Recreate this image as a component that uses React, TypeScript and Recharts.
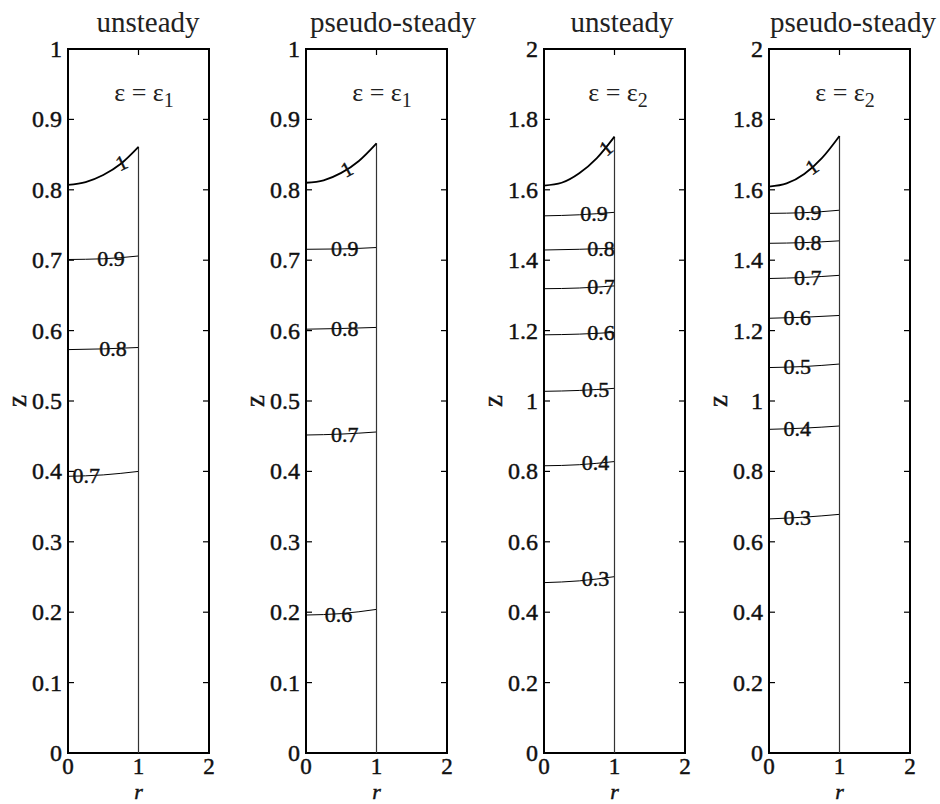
import { ComposedChart, Label, Line, ReferenceArea, ReferenceLine, Scatter, XAxis, YAxis } from "recharts";

// axes
const rTicks = [0, 1, 2];
const zTicksLow = [0, 0.1, 0.2, 0.3, 0.4, 0.5, 0.6, 0.7, 0.8, 0.9, 1];
const zTicksHigh = [0, 0.2, 0.4, 0.6, 0.8, 1, 1.2, 1.4, 1.6, 1.8, 2];

// free surface, sampled at surfaceR
const surfaceR = [0, 0.25, 0.5, 0.75, 1];
const surfUnsteady1 = [0.807, 0.811, 0.821, 0.837, 0.861];
const surfPseudo1 = [0.81, 0.8135, 0.824, 0.841, 0.866];
const surfUnsteady2 = [1.612, 1.62, 1.647, 1.69, 1.751];
const surfPseudo2 = [1.609, 1.618, 1.645, 1.69, 1.753];

// contour lines, sampled at contourR (left, middle, right)
const contourR = [0, 0.5, 1];

const levels1 = ["0.9", "0.8", "0.7"];
const unsteady1Left = [0.701, 0.573, 0.393];
const unsteady1Mid = [0.702, 0.574, 0.395];
const unsteady1Right = [0.706, 0.576, 0.4];
const unsteady1LabelR = [0.61, 0.64, 0.26];
const unsteady1LabelZ = [0.703, 0.575, 0.394];

const levels2 = ["0.9", "0.8", "0.7", "0.6"];
const pseudo1Left = [0.7155, 0.602, 0.4517, 0.196];
const pseudo1Mid = [0.716, 0.603, 0.453, 0.198];
const pseudo1Right = [0.718, 0.6045, 0.456, 0.204];
const pseudo1LabelR = [0.55, 0.55, 0.55, 0.46];
const pseudo1LabelZ = [0.716, 0.603, 0.453, 0.197];

const levels3 = ["0.9", "0.8", "0.7", "0.6", "0.5", "0.4", "0.3"];
const unsteady2Left = [1.526, 1.429, 1.319, 1.188, 1.0275, 0.816, 0.484];
const unsteady2Mid = [1.529, 1.431, 1.321, 1.19, 1.03, 0.819, 0.489];
const unsteady2Right = [1.536, 1.434, 1.327, 1.195, 1.036, 0.828, 0.501];
const unsteady2LabelR = [0.71, 0.81, 0.81, 0.81, 0.73, 0.73, 0.73];
const unsteady2LabelZ = [1.533, 1.433, 1.325, 1.194, 1.034, 0.825, 0.497];

const pseudo2Left = [1.533, 1.448, 1.348, 1.235, 1.095, 0.9195, 0.665];
const pseudo2Mid = [1.535, 1.45, 1.351, 1.238, 1.098, 0.923, 0.67];
const pseudo2Right = [1.542, 1.455, 1.357, 1.243, 1.105, 0.929, 0.678];
const pseudo2LabelR = [0.55, 0.55, 0.55, 0.4, 0.4, 0.4, 0.4];
const pseudo2LabelZ = [1.536, 1.451, 1.352, 1.238, 1.098, 0.923, 0.669];

// "1" label on the free surface: [r, z]
const surfLabels = [
  [0.76, 0.838],
  [0.58, 0.829],
  [0.88, 1.718],
  [0.61, 1.665],
];

const titles = ["unsteady", "pseudo-steady", "unsteady", "pseudo-steady"];
const epsIndex = ["1", "1", "2", "2"];

const PLOT_TOP = 49;
const PLOT_H = 704;
const PLOT_W = 141;
const Y_AXIS_W = 68;
const TICK = 6;
const serif = "Liberation Serif";

type PanelDef = {
  left: number;
  zMax: number;
  zTicks: number[];
  surface: number[];
  levels: string[];
  lo: number[];
  mid: number[];
  hi: number[];
  labelR: number[];
  labelZ: number[];
  surfLabel: number[];
  surfAngle: number;
  titleX: number;
  epsX: number;
};

const panels: PanelDef[] = [
  { left: 68, zMax: 1, zTicks: zTicksLow, surface: surfUnsteady1, levels: levels1, lo: unsteady1Left, mid: unsteady1Mid, hi: unsteady1Right, labelR: unsteady1LabelR, labelZ: unsteady1LabelZ, surfLabel: surfLabels[0], surfAngle: -25, titleX: 148, epsX: 144 },
  { left: 306, zMax: 1, zTicks: zTicksLow, surface: surfPseudo1, levels: levels2, lo: pseudo1Left, mid: pseudo1Mid, hi: pseudo1Right, labelR: pseudo1LabelR, labelZ: pseudo1LabelZ, surfLabel: surfLabels[1], surfAngle: -28, titleX: 393, epsX: 382 },
  { left: 544, zMax: 2, zTicks: zTicksHigh, surface: surfUnsteady2, levels: levels3, lo: unsteady2Left, mid: unsteady2Mid, hi: unsteady2Right, labelR: unsteady2LabelR, labelZ: unsteady2LabelZ, surfLabel: surfLabels[2], surfAngle: -40, titleX: 622, epsX: 618 },
  { left: 769, zMax: 2, zTicks: zTicksHigh, surface: surfPseudo2, levels: levels3, lo: pseudo2Left, mid: pseudo2Mid, hi: pseudo2Right, labelR: pseudo2LabelR, labelZ: pseudo2LabelZ, surfLabel: surfLabels[3], surfAngle: -35, titleX: 853, epsX: 845 },
];

const fmt = (v: number) => String(Number(v.toFixed(1)));

// heavy serif digits, like the original's schoolbook face
const numStyle = { fill: "#111", stroke: "#111", strokeWidth: 0.45, style: { fontFamily: serif } };

function YTick(props: any) {
  const { x, y, payload } = props;
  return (
    <text x={x - 6} y={y} textAnchor="end" dominantBaseline="central" fontSize={24} {...numStyle}>
      {fmt(payload.value)}
    </text>
  );
}

function XTick(props: any) {
  const { x, y, payload } = props;
  return (
    <text x={x} y={y + 21} textAnchor="middle" fontSize={23} {...numStyle}>
      {fmt(payload.value)}
    </text>
  );
}

function Panel({ p }: { p: PanelDef }) {
  const surfData = surfaceR.map((r, i) => ({ r, z: p.surface[i] }));
  const wallData = [
    { r: 1, z: 0 },
    { r: 1, z: p.surface[p.surface.length - 1] },
  ];
  const contours = p.levels.map((_, i) => contourR.map((r, j) => ({ r, z: [p.lo[i], p.mid[i], p.hi[i]][j] })));
  const labels = p.levels.map((text, i) => ({ r: p.labelR[i], z: p.labelZ[i], text }));
  const surfLabel = [{ r: p.surfLabel[0], z: p.surfLabel[1], text: "1" }];
  const dr = (TICK * 2) / PLOT_W;
  const dz = (TICK * p.zMax) / PLOT_H;
  const inner = p.zTicks.slice(1, -1);
  const width = Y_AXIS_W + PLOT_W + 16;

  return (
    <div style={{ position: "absolute", left: p.left - Y_AXIS_W, top: 0 }}>
      <ComposedChart width={width} height={804} margin={{ top: PLOT_TOP, right: 16, bottom: 0, left: 0 }}>
        <XAxis type="number" dataKey="r" domain={[0, 2]} ticks={rTicks} interval={0} height={51} tickSize={0} tickMargin={0} tickLine={false} axisLine={false} tick={<XTick />}>
          <Label
            content={(lp: any) => {
              const vb = lp.viewBox;
              return (
                <text x={vb.x + vb.width / 2} y={vb.y + 46} textAnchor="middle" fontStyle="italic" fontSize={22} {...numStyle}>
                  r
                </text>
              );
            }}
          />
        </XAxis>
        <YAxis type="number" domain={[0, p.zMax]} ticks={p.zTicks} interval={0} width={Y_AXIS_W} tickSize={0} tickMargin={0} tickLine={false} axisLine={false} tick={<YTick />}>
          <Label
            content={(lp: any) => {
              const vb = lp.viewBox;
              const cx = vb.x + vb.width - 51;
              const cy = vb.y + vb.height / 2;
              return (
                <text x={cx} y={cy} transform={`rotate(-90 ${cx} ${cy})`} textAnchor="middle" dominantBaseline="central" fontSize={27} {...numStyle}>
                  z
                </text>
              );
            }}
          />
        </YAxis>

        <ReferenceArea x1={0} x2={2} y1={0} y2={p.zMax} fill="none" stroke="#000" strokeWidth={2} />
        {inner.map((t) => (
          <ReferenceLine key={"l" + t} segment={[{ x: 0, y: t }, { x: dr, y: t }]} stroke="#000" strokeWidth={1.2} />
        ))}
        {inner.map((t) => (
          <ReferenceLine key={"r" + t} segment={[{ x: 2 - dr, y: t }, { x: 2, y: t }]} stroke="#000" strokeWidth={1.2} />
        ))}
        <ReferenceLine segment={[{ x: 1, y: p.zMax }, { x: 1, y: p.zMax - dz }]} stroke="#000" strokeWidth={1.2} />

        {contours.map((d, i) => (
          <Line key={p.levels[i]} data={d} dataKey="z" type="monotone" stroke="#000" strokeWidth={1} dot={false} activeDot={false} isAnimationActive={false} />
        ))}
        <Line data={wallData} dataKey="z" type="linear" stroke="#333" strokeWidth={1.2} dot={false} activeDot={false} isAnimationActive={false} />
        <Line data={surfData} dataKey="z" type="monotone" stroke="#000" strokeWidth={1.8} dot={false} activeDot={false} isAnimationActive={false} />
        <Scatter
          data={labels}
          dataKey="z"
          isAnimationActive={false}
          shape={(sp: any) => (
            <text x={sp.cx} y={sp.cy} textAnchor="middle" dominantBaseline="central" fontSize={22} {...numStyle}>
              {sp.payload.text}
            </text>
          )}
        />
        <Scatter
          data={surfLabel}
          dataKey="z"
          isAnimationActive={false}
          shape={(sp: any) => (
            <text x={sp.cx} y={sp.cy} transform={`rotate(${p.surfAngle} ${sp.cx} ${sp.cy})`} textAnchor="middle" dominantBaseline="central" fontSize={21} {...numStyle}>
              {sp.payload.text}
            </text>
          )}
        />
      </ComposedChart>
    </div>
  );
}

export default function App() {
  return (
    <div style={{ position: "absolute", left: 0, top: 0, width: 940, height: 804, background: "#fff", overflow: "hidden" }}>
      {panels.map((p, i) => (
        <Panel key={i} p={p} />
      ))}
      <svg width={940} height={120} style={{ position: "absolute", left: 0, top: 0, pointerEvents: "none" }}>
        {panels.map((p, i) => (
          <g key={i}>
            <text x={p.titleX} y={32} textAnchor="middle" fontFamily={serif} fontSize={29} fill="#222">
              {titles[i]}
            </text>
            <text x={p.epsX} y={101} textAnchor="middle" fontFamily={serif} fontSize={26} fill="#222">
              {"ε = ε"}
              <tspan fontSize={20} dy={6}>
                {epsIndex[i]}
              </tspan>
            </text>
          </g>
        ))}
      </svg>
    </div>
  );
}
